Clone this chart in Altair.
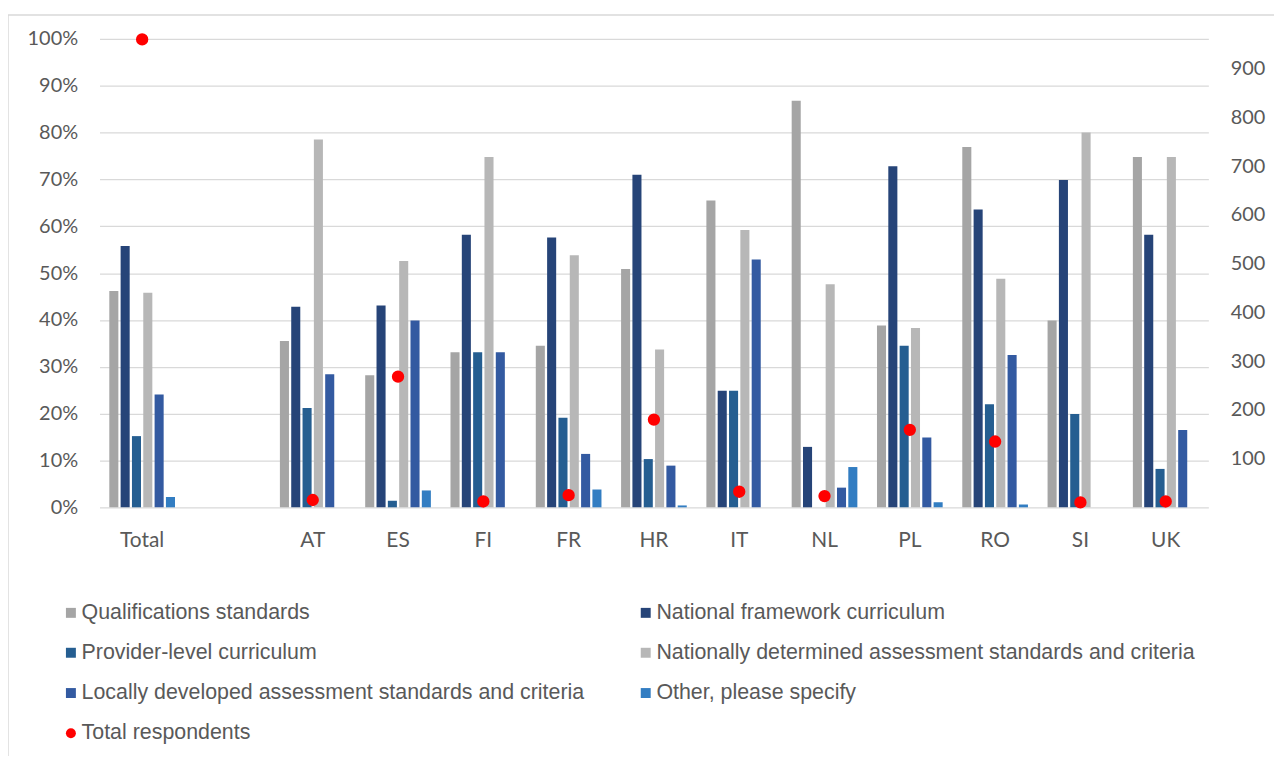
import altair as alt
import pandas as pd

# ---- data ----
categories = ["Total", " ", "AT", "ES", "FI", "FR", "HR", "IT", "NL", "PL", "RO", "SI", "UK"]
countries = ["Total", "AT", "ES", "FI", "FR", "HR", "IT", "NL", "PL", "RO", "SI", "UK"]

series = [
    "Qualifications standards",
    "National framework curriculum",
    "Provider-level curriculum",
    "\u00a0Nationally determined assessment standards and criteria",
    "Locally developed assessment standards and criteria",
    "Other, please specify",
    "Total respondents",
]
colors = ["#A5A5A5", "#264478", "#255E91", "#B7B7B7", "#335AA1", "#327DC2", "#FF0000"]
shapes = ["square", "square", "square", "square", "square", "square", "circle"]

qualifications = [46.2, 35.5, 28.2, 33.1, 34.5, 50.9, 65.5, 86.8, 38.8, 76.9, 39.9, 74.8]
national_framework = [55.8, 42.8, 43.1, 58.2, 57.6, 71.0, 24.9, 12.9, 72.8, 63.6, 69.9, 58.2]
provider_level = [15.2, 21.2, 1.4, 33.1, 19.1, 10.3, 24.9, 0.0, 34.5, 22.0, 19.9, 8.2]
national_assessment = [45.8, 78.5, 52.6, 74.8, 53.8, 33.7, 59.2, 47.6, 38.3, 48.8, 80.0, 74.8]
local_assessment = [24.1, 28.4, 39.9, 33.1, 11.4, 8.9, 52.9, 4.2, 14.9, 32.5, 0.0, 16.5]
other = [2.2, 0.0, 3.6, 0.0, 3.8, 0.4, 0.0, 8.6, 1.1, 0.6, 0.0, 0.0]
respondents = [960, 15, 268, 12, 25, 180, 32, 23, 159, 135, 10, 12]

pct_ticks = [0, 0.1, 0.2, 0.3, 0.4, 0.5, 0.6, 0.7, 0.8, 0.9, 1.0]
count_ticks = [100, 200, 300, 400, 500, 600, 700, 800, 900]

# ---- tables ----
rows = []
for s, vals in zip(series[:6], [qualifications, national_framework, provider_level,
                                national_assessment, local_assessment, other]):
    for c, v in zip(countries, vals):
        rows.append({"cat": c, "series": s, "value": v / 100.0})
bars_df = pd.DataFrame(rows)
dots_df = pd.DataFrame({"cat": countries, "series": series[6], "n": respondents})
frame_df = pd.DataFrame({"k": [0]})

AXIS_FONT = "Lato"
LEG_FONT = "Liberation Sans"
TXT = "#595959"

x_enc = alt.X(
    "cat:N",
    scale=alt.Scale(domain=categories, paddingInner=0.23, paddingOuter=0.115),
    axis=alt.Axis(title=None, labelAngle=0, domain=False, ticks=False, labelPadding=22,
                  labelFont=AXIS_FONT, labelFontSize=21, labelColor=TXT),
)

legend = alt.Legend(
    title=None, orient="none", legendX=-39.5, legendY=566, columns=2, direction="horizontal",
    labelFont=LEG_FONT, labelFontSize=21.5, labelColor=TXT, labelLimit=0,
    symbolSize=100, symbolStrokeWidth=0, symbolOpacity=1, labelOffset=0,
    rowPadding=17.5, columnPadding=50, padding=0,
)

color_enc = alt.Color("series:N", scale=alt.Scale(domain=series, range=colors), legend=legend)

bars = alt.Chart(bars_df).mark_bar().encode(
    x=x_enc,
    xOffset=alt.XOffset("series:N", scale=alt.Scale(domain=series[:6], paddingInner=0.2, paddingOuter=0)),
    y=alt.Y("value:Q", scale=alt.Scale(domain=[0, 1], nice=False),
            axis=alt.Axis(orient="left", title=None, format=".0%", values=pct_ticks,
                          domain=False, ticks=False, grid=True, gridColor="#D9D9D9", gridWidth=1.3,
                          labelPadding=22, labelFont=AXIS_FONT, labelFontSize=20, labelColor=TXT)),
    color=color_enc,
)

dots = alt.Chart(dots_df).mark_point(filled=True, opacity=1, size=154, strokeWidth=0).encode(
    x=x_enc,
    y=alt.Y("n:Q", scale=alt.Scale(domain=[0, 961], nice=False),
            axis=alt.Axis(orient="right", title=None, values=count_ticks, domain=False, ticks=False,
                          grid=False, labelPadding=22, labelFont=AXIS_FONT, labelFontSize=20,
                          labelColor=TXT)),
    color=color_enc,
    shape=alt.Shape("series:N", scale=alt.Scale(domain=series, range=shapes), legend=legend),
)

frame_left = alt.Chart(frame_df).mark_rule(color="#D9D9D9", strokeWidth=1.5).encode(
    x=alt.value(-92), y=alt.value(-24), y2=alt.value(721)
)
frame_top = alt.Chart(frame_df).mark_rule(color="#D9D9D9", strokeWidth=1.5).encode(
    x=alt.value(-92), x2=alt.value(1181), y=alt.value(-24)
)

chart = (
    alt.layer(frame_left, frame_top, bars, dots)
    .resolve_scale(y="independent")
    .properties(
        width=1115, height=471,
        autosize=alt.AutoSizeParams(type="none"),
        padding={"left": 92, "top": 29, "right": 66, "bottom": 250},
        background="white",
    )
    .configure_view(stroke=None)
)

chart.save("out.html", embed_options={"renderer": "svg", "actions": False})
